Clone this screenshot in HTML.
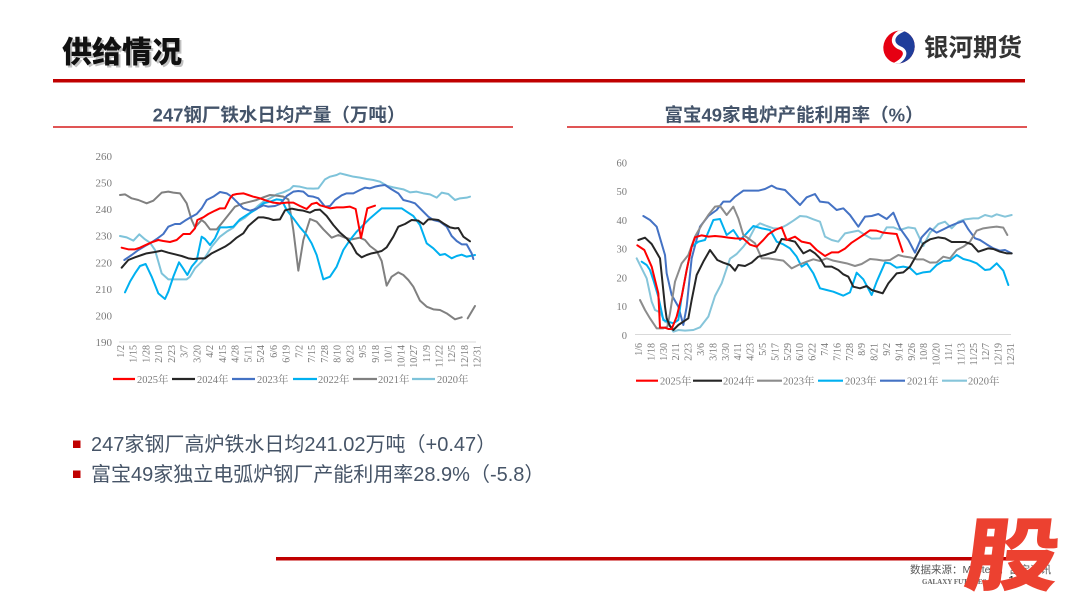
<!DOCTYPE html>
<html><head><meta charset="utf-8"><style>
html,body{margin:0;padding:0;background:#fff;}
svg{display:block;}
.tk{font-family:"Liberation Serif","Noto Serif CJK SC",serif;fill:#7a7a7a;}
.sn{font-family:"Liberation Sans","Noto Sans CJK SC",sans-serif;}
</style></head><body>
<svg width="1080" height="608" viewBox="0 0 1080 608" xmlns="http://www.w3.org/2000/svg">
<rect width="1080" height="608" fill="#fff"/>
<!-- Header -->
<text x="64" y="64.5" font-family="'Noto Sans CJK SC',sans-serif" font-weight="900" font-size="30" fill="#999" opacity="0.6">供给情况</text>
<text x="62" y="62.5" font-family="'Noto Sans CJK SC',sans-serif" font-weight="900" font-size="30" fill="#111">供给情况</text>
<rect x="53" y="79" width="972" height="3.5" fill="#C00000"/>
<!-- logo -->
<defs><clipPath id="lg"><ellipse cx="899" cy="47" rx="15.5" ry="16.5" transform="rotate(25 899 47)"/></clipPath></defs>
<g clip-path="url(#lg)">
<rect x="880" y="28" width="40" height="40" fill="#E60012"/>
<path d="M906,29 C889,35 892,45 900,48 C908,51 906,60 891,66 L930 66 L930 29 Z" fill="#1F3D9A"/>
<path d="M906,29 C889,35 892,45 900,48 C908,51 906,60 891,66" stroke="#fff" stroke-width="3.5" fill="none"/>
</g>
<text x="924" y="56" font-family="'Noto Sans CJK SC',sans-serif" font-weight="700" font-size="24.5" fill="#333">银河期货</text>

<!-- chart titles -->
<text x="279" y="121.5" text-anchor="middle" font-family="'Liberation Sans','Noto Sans CJK SC',sans-serif" font-weight="700" font-size="18.5" fill="#44546A">247钢厂铁水日均产量（万吨）</text>
<rect x="53" y="126" width="460" height="2" fill="#E05555"/>
<text x="794" y="121.5" text-anchor="middle" font-family="'Liberation Sans','Noto Sans CJK SC',sans-serif" font-weight="700" font-size="18.5" fill="#44546A">富宝49家电炉产能利用率（%）</text>
<rect x="567" y="126" width="460" height="2" fill="#E05555"/>

<!-- LEFT CHART -->
<g class="tk" font-size="11" text-anchor="end">
<text x="112" y="160">260</text><text x="112" y="186.6">250</text><text x="112" y="213.1">240</text><text x="112" y="239.7">230</text><text x="112" y="266.3">220</text><text x="112" y="292.9">210</text><text x="112" y="319.4">200</text><text x="112" y="346">190</text>
</g>
<line x1="119" y1="342" x2="476" y2="342" stroke="#d9d9d9" stroke-width="1"/>
<g class="tk" font-size="10" text-anchor="end">
<text transform="translate(124,345) rotate(-90)">1/2</text>
<text transform="translate(136.7,345) rotate(-90)">1/15</text>
<text transform="translate(149.5,345) rotate(-90)">1/28</text>
<text transform="translate(162.2,345) rotate(-90)">2/10</text>
<text transform="translate(175,345) rotate(-90)">2/23</text>
<text transform="translate(187.7,345) rotate(-90)">3/7</text>
<text transform="translate(200.4,345) rotate(-90)">3/20</text>
<text transform="translate(213.2,345) rotate(-90)">4/2</text>
<text transform="translate(225.9,345) rotate(-90)">4/15</text>
<text transform="translate(238.7,345) rotate(-90)">4/28</text>
<text transform="translate(251.4,345) rotate(-90)">5/11</text>
<text transform="translate(264.1,345) rotate(-90)">5/24</text>
<text transform="translate(276.9,345) rotate(-90)">6/6</text>
<text transform="translate(289.6,345) rotate(-90)">6/19</text>
<text transform="translate(302.4,345) rotate(-90)">7/2</text>
<text transform="translate(315.1,345) rotate(-90)">7/15</text>
<text transform="translate(327.8,345) rotate(-90)">7/28</text>
<text transform="translate(340.6,345) rotate(-90)">8/10</text>
<text transform="translate(353.3,345) rotate(-90)">8/23</text>
<text transform="translate(366.1,345) rotate(-90)">9/5</text>
<text transform="translate(378.8,345) rotate(-90)">9/18</text>
<text transform="translate(391.5,345) rotate(-90)">10/1</text>
<text transform="translate(404.3,345) rotate(-90)">10/14</text>
<text transform="translate(417,345) rotate(-90)">10/27</text>
<text transform="translate(429.8,345) rotate(-90)">11/9</text>
<text transform="translate(442.5,345) rotate(-90)">11/22</text>
<text transform="translate(455.2,345) rotate(-90)">12/5</text>
<text transform="translate(468,345) rotate(-90)">12/18</text>
<text transform="translate(480.7,345) rotate(-90)">12/31</text>
</g>
<g transform="translate(80,140) scale(0.333333)" fill="none" stroke-width="6" stroke-linejoin="round" stroke-linecap="round">
<polyline stroke="#7EC3DA" points="120,288 140,292 160,302 178,283 195,298 210,308 225,330 245,400 265,418 280,418 300,418 320,418 330,410 345,385 365,365 380,345 395,320 420,290 440,275 460,263 475,245 495,233 515,215 535,197 550,185 570,175 590,163 610,157 630,148 640,138 660,140 680,145 700,146 715,145 735,118 750,110 770,105 780,100 800,105 820,110 840,113 860,117 880,120 900,125 920,137 940,142 955,145 970,148 990,157 1010,155 1030,160 1050,163 1070,173 1085,158 1105,162 1125,180 1140,175 1160,173 1170,170"/>
<polyline stroke="#808080" points="120,165 135,163 155,175 175,180 200,190 220,182 245,158 265,155 280,158 300,160 320,190 335,240 345,262 365,240 375,248 390,268 410,268 425,250 445,225 465,200 490,190 510,185 530,180 550,172 570,165 590,167 610,170 625,178 640,270 655,392 670,300 690,237 710,245 730,268 755,293 775,285 795,293 815,298 840,293 855,300 870,318 890,333 905,363 920,437 935,410 955,397 970,405 985,420 1000,440 1020,482 1040,500 1060,508 1080,510 1100,520 1125,538 1145,532"/>
<polyline stroke="#808080" points="1163,535 1185,498"/>
<polyline stroke="#00B0F0" points="135,457 150,425 165,400 180,378 197,372 215,410 235,460 255,477 265,455 280,410 297,367 308,383 322,405 335,380 350,362 365,290 375,297 390,315 405,295 420,262 440,262 460,260 480,238 505,222 530,207 550,190 570,185 590,178 605,180 620,210 640,235 660,262 680,285 695,310 710,345 730,418 750,410 770,380 790,330 810,300 830,275 850,255 870,235 890,218 905,205 920,205 945,205 965,205 980,215 1000,228 1020,255 1040,310 1060,325 1080,345 1095,342 1115,355 1130,348 1145,344 1160,350 1185,345"/>
<polyline stroke="#4472C4" points="133,360 155,345 175,330 195,318 215,307 230,297 250,282 265,260 285,252 300,252 315,242 330,233 350,222 365,205 380,180 400,170 420,156 440,160 455,170 470,185 490,205 510,212 530,206 550,196 565,200 585,198 600,192 620,168 640,155 655,153 670,155 685,168 700,170 715,175 735,200 750,198 765,180 785,166 800,160 820,160 840,150 855,143 870,145 885,140 900,137 915,135 930,145 955,160 970,180 990,185 1005,190 1025,210 1045,230 1060,240 1080,245 1100,260 1115,288 1130,303 1145,313 1160,313 1175,340 1180,357"/>
<polyline stroke="#262626" points="125,383 145,360 165,352 185,345 200,340 225,336 245,332 265,338 285,343 305,348 325,355 340,357 360,355 375,355 395,340 415,330 435,320 450,310 470,293 490,280 505,258 520,245 535,232 550,232 565,235 580,240 600,238 615,211 635,206 655,210 670,212 690,218 705,210 720,209 740,228 760,255 780,278 800,295 815,313 830,340 845,352 860,345 875,340 890,337 905,333 920,322 940,290 955,260 975,252 995,240 1015,242 1030,253 1045,238 1060,238 1075,240 1090,250 1110,262 1125,265 1135,264 1150,290 1170,304"/>
<polyline stroke="#FF0000" points="125,323 145,328 165,328 180,323 195,316 215,307 235,300 250,303 270,306 290,300 310,282 330,282 345,265 352,240 370,232 385,222 405,212 420,205 435,205 450,175 458,165 470,162 490,160 505,165 520,170 540,175 560,182 580,188 600,190 620,188 640,188 660,198 680,207 695,192 710,188 720,196 735,200 750,205 770,202 790,202 810,200 827,207 843,294 862,205 885,197"/>
</g>
<!-- left legend -->
<g stroke-width="2.2">
<line x1="113" y1="379" x2="135" y2="379" stroke="#FF0000"/>
<line x1="172" y1="379" x2="195" y2="379" stroke="#262626"/>
<line x1="232" y1="379" x2="255" y2="379" stroke="#4472C4"/>
<line x1="293" y1="379" x2="317" y2="379" stroke="#00B0F0"/>
<line x1="353" y1="379" x2="377" y2="379" stroke="#808080"/>
<line x1="412" y1="379" x2="435" y2="379" stroke="#7EC3DA"/>
</g>
<g class="tk" font-size="10.5">
<text x="137" y="383">2025年</text><text x="197" y="383">2024年</text><text x="257" y="383">2023年</text><text x="318" y="383">2022年</text><text x="378" y="383">2021年</text><text x="437" y="383">2020年</text>
</g>

<!-- RIGHT CHART -->
<g class="tk" font-size="10.5" text-anchor="end">
<text x="627" y="166.5">60</text><text x="627" y="195.2">50</text><text x="627" y="223.9">40</text><text x="627" y="252.7">30</text><text x="627" y="281.4">20</text><text x="627" y="310.1">10</text><text x="627" y="338.8">0</text>
</g>
<line x1="635" y1="334.5" x2="1011" y2="334.5" stroke="#d9d9d9" stroke-width="1"/>
<g class="tk" font-size="10" text-anchor="end">
<text transform="translate(642,343) rotate(-90)">1/6</text>
<text transform="translate(654.4,343) rotate(-90)">1/18</text>
<text transform="translate(666.8,343) rotate(-90)">1/30</text>
<text transform="translate(679.2,343) rotate(-90)">2/11</text>
<text transform="translate(691.6,343) rotate(-90)">2/23</text>
<text transform="translate(704,343) rotate(-90)">3/6</text>
<text transform="translate(716.4,343) rotate(-90)">3/18</text>
<text transform="translate(728.8,343) rotate(-90)">3/30</text>
<text transform="translate(741.2,343) rotate(-90)">4/11</text>
<text transform="translate(753.6,343) rotate(-90)">4/23</text>
<text transform="translate(766,343) rotate(-90)">5/5</text>
<text transform="translate(778.4,343) rotate(-90)">5/17</text>
<text transform="translate(790.8,343) rotate(-90)">5/29</text>
<text transform="translate(803.2,343) rotate(-90)">6/10</text>
<text transform="translate(815.6,343) rotate(-90)">6/22</text>
<text transform="translate(828,343) rotate(-90)">7/4</text>
<text transform="translate(840.4,343) rotate(-90)">7/16</text>
<text transform="translate(852.8,343) rotate(-90)">7/28</text>
<text transform="translate(865.2,343) rotate(-90)">8/9</text>
<text transform="translate(877.6,343) rotate(-90)">8/21</text>
<text transform="translate(890,343) rotate(-90)">9/2</text>
<text transform="translate(902.4,343) rotate(-90)">9/14</text>
<text transform="translate(914.8,343) rotate(-90)">9/26</text>
<text transform="translate(927.2,343) rotate(-90)">10/8</text>
<text transform="translate(939.6,343) rotate(-90)">10/20</text>
<text transform="translate(952,343) rotate(-90)">11/1</text>
<text transform="translate(964.4,343) rotate(-90)">11/13</text>
<text transform="translate(976.8,343) rotate(-90)">11/25</text>
<text transform="translate(989.2,343) rotate(-90)">12/7</text>
<text transform="translate(1001.6,343) rotate(-90)">12/19</text>
<text transform="translate(1014,343) rotate(-90)">12/31</text>
</g>
<g transform="translate(580,140) scale(0.333333)" fill="none" stroke-width="6" stroke-linejoin="round" stroke-linecap="round">
<polyline stroke="#86C5DA" points="170,355 185,385 200,415 215,485 225,510 240,517 255,545 265,550 280,575 295,570 315,572 340,570 360,562 385,530 405,468 425,430 450,356 470,342 490,320 505,300 525,262 540,250 560,258 580,265 600,265 620,255 640,242 660,228 680,230 700,238 720,245 735,290 755,300 775,305 795,280 815,276 835,272 855,285 875,296 900,295 920,262 940,262 960,270 985,262 1005,265 1030,318 1050,278 1075,252 1095,245 1115,265 1135,245 1155,238 1180,235 1195,235 1215,225 1235,230 1250,223 1275,230 1295,225"/>
<polyline stroke="#4472C4" points="190,228 210,240 230,260 255,345 260,400 275,465 295,500 310,555 320,500 335,355 360,260 385,228 410,210 430,185 450,185 465,170 490,152 510,152 535,152 555,147 575,137 590,145 615,150 635,170 660,195 680,172 705,162 720,185 745,188 770,210 790,205 810,225 835,260 855,230 875,228 895,222 920,237 940,218 960,265 985,300 1005,338 1025,292 1050,265 1070,278 1090,268 1110,258 1130,250 1150,243 1165,268 1185,295 1200,300 1220,313 1240,325 1260,332 1275,330 1295,340"/>
<polyline stroke="#00B0F0" points="185,365 200,375 210,390 220,420 235,470 250,540 265,545 280,550 295,540 305,470 320,390 335,320 355,305 375,300 400,240 420,237 440,285 460,270 480,300 500,280 520,258 545,265 570,270 590,305 610,313 630,325 650,350 665,380 680,370 700,400 720,445 740,450 760,455 790,467 810,457 830,398 850,418 875,465 890,425 915,368 930,370 950,383 970,380 990,384 1010,403 1030,397 1050,395 1070,375 1090,363 1110,362 1130,345 1150,357 1170,362 1190,370 1215,390 1230,388 1250,370 1270,392 1285,435"/>
<polyline stroke="#8C8C8C" points="180,480 195,510 210,535 230,565 250,565 262,560 270,520 285,425 305,370 325,345 345,290 365,255 385,225 405,200 420,198 440,225 460,200 475,235 490,285 505,295 525,310 545,355 565,355 585,358 610,362 635,385 655,375 680,365 700,358 720,363 740,355 760,362 780,366 800,370 825,378 845,372 870,357 890,359 910,362 930,360 955,345 970,349 990,352 1010,358 1030,358 1050,368 1070,367 1090,350 1110,355 1130,330 1150,320 1170,305 1190,272 1210,265 1230,262 1250,260 1270,263 1282,285"/>
<polyline stroke="#262626" points="175,300 195,293 215,312 240,355 255,500 260,535 270,558 280,570 295,555 310,545 325,535 335,480 350,405 370,365 390,330 412,360 430,368 450,375 465,392 475,375 495,378 515,368 535,350 555,345 570,340 585,335 605,297 625,300 645,305 670,340 690,330 705,340 720,355 735,380 755,380 775,390 790,403 805,410 820,440 840,445 860,438 875,450 895,456 908,460 925,430 950,400 970,397 990,380 1010,345 1030,310 1050,298 1075,292 1095,295 1115,306 1135,306 1155,306 1175,313 1195,335 1210,330 1225,325 1240,327 1260,335 1280,340 1295,340"/>
<polyline stroke="#FF0000" points="172,316 193,330 215,380 235,460 240,563 255,563 265,567 275,567 290,530 305,470 320,390 335,320 345,292 365,286 385,290 405,288 425,290 445,293 465,295 490,296 510,314 530,320 550,300 565,283 585,270 605,262 620,300 645,290 665,305 690,310 710,330 735,348 755,337 775,337 795,326 815,308 835,295 850,285 870,271 890,272 910,278 930,280 950,282 968,335"/>
</g>
<!-- right legend -->
<g stroke-width="2.2">
<line x1="636" y1="380.7" x2="658" y2="380.7" stroke="#FF0000"/>
<line x1="693" y1="380.7" x2="722" y2="380.7" stroke="#262626"/>
<line x1="757" y1="380.7" x2="782" y2="380.7" stroke="#8C8C8C"/>
<line x1="818" y1="380.7" x2="843" y2="380.7" stroke="#00B0F0"/>
<line x1="880" y1="380.7" x2="905" y2="380.7" stroke="#4472C4"/>
<line x1="942" y1="380.7" x2="967" y2="380.7" stroke="#86C5DA"/>
</g>
<g class="tk" font-size="10.5">
<text x="660" y="384.5">2025年</text><text x="723" y="384.5">2024年</text><text x="783" y="384.5">2023年</text><text x="845" y="384.5">2023年</text><text x="907" y="384.5">2021年</text><text x="968" y="384.5">2020年</text>
</g>

<!-- bullets -->
<rect x="73" y="440.5" width="7.5" height="7.5" fill="#C00000"/>
<rect x="73" y="470.5" width="7.5" height="7.5" fill="#C00000"/>
<text class="sn" x="91" y="451" font-size="20" fill="#465467">247家钢厂高炉铁水日均241.02万吨（+0.47）</text>
<text class="sn" x="91" y="481" font-size="20" fill="#465467">富宝49家独立电弧炉钢厂产能利用率28.9%（-5.8）</text>

<!-- footer -->
<rect x="276" y="557" width="751" height="3.5" fill="#C00000"/>
<text class="sn" x="910" y="573" font-size="10.5" fill="#595959">数据来源：Mysteel，富宝资讯</text>
<text x="922" y="584" font-family="'Liberation Serif',serif" font-size="7" font-weight="700" fill="#666">GALAXY FUTURES</text>
<text class="sn" x="1008" y="585" font-size="13" fill="#222">1</text>
<text transform="translate(962,584) scale(1.18,1) skewX(-6)" font-family="'Noto Sans CJK SC',sans-serif" font-weight="900" font-size="80" fill="#EC4130">股</text>
</svg>
</body></html>
